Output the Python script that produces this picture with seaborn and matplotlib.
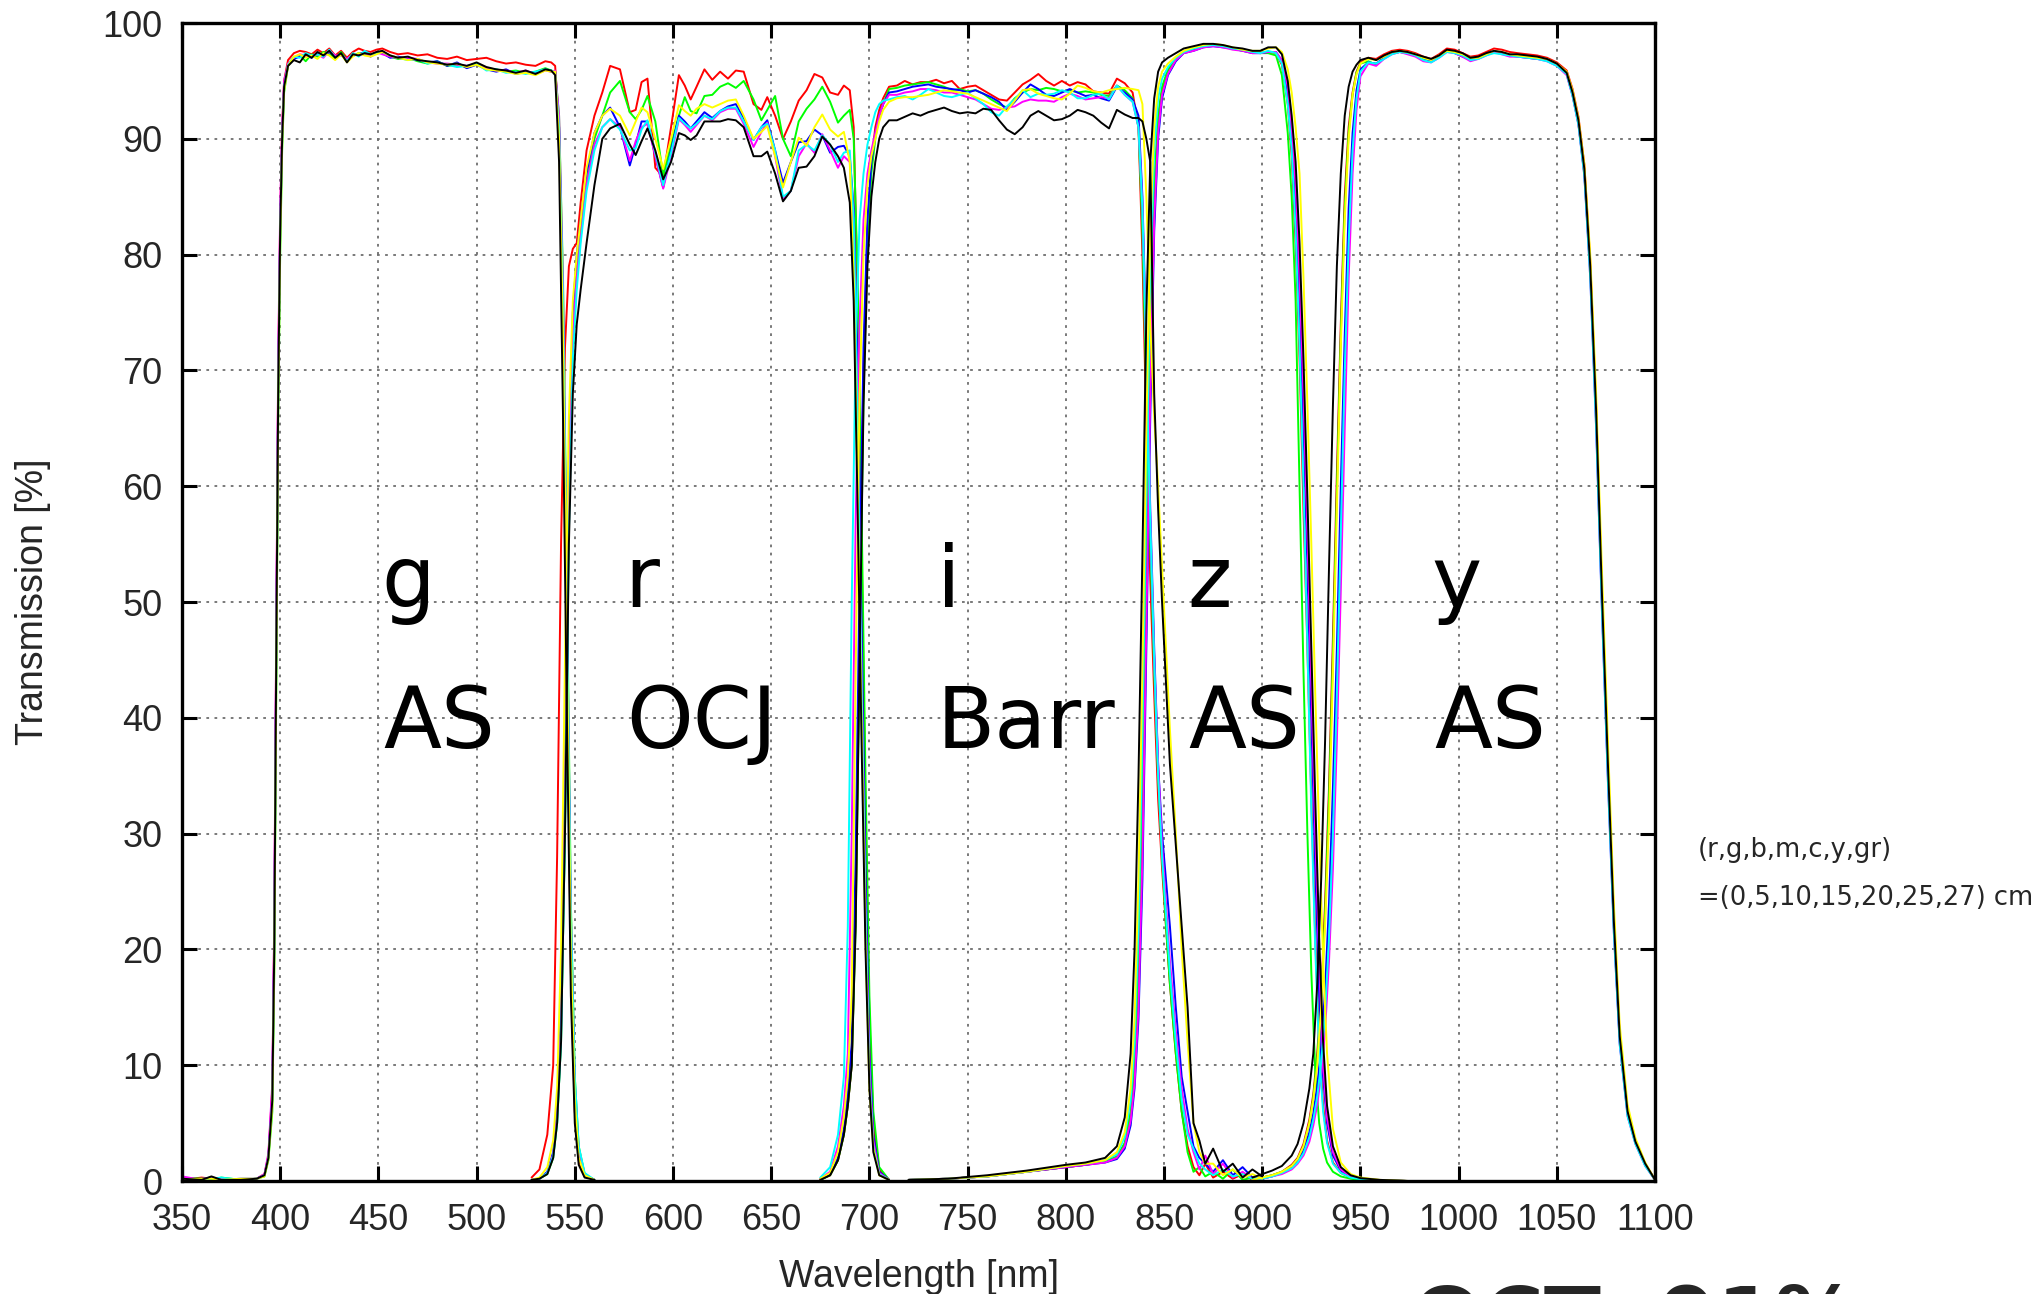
import matplotlib
matplotlib.use("Agg")
import matplotlib.pyplot as plt
import numpy as np
import pandas as pd
import seaborn as sns

# ---------------------------------------------------------------- data
POSITIONS = ["r", "g", "b", "m", "c", "y", "gr"]
LINE_COLORS = ["#ff0000", "#00ff00", "#0000ff", "#ff00ff", "#00ffff", "#ffff00", "#000000"]
BANDS = ["g", "r", "i", "z", "y"]
MAKERS = ["AS", "OCJ", "Barr", "AS", "AS"]
X_TICKS = list(range(350, 1101, 50))
Y_TICKS = list(range(0, 101, 10))

# g band (AS)
G_NM = [350, 360, 365, 370, 380, 388, 392, 394, 396, 397, 398, 399, 400, 401, 402, 404,
        407, 410, 413, 416, 419, 422, 425, 428, 431, 434, 437, 440, 443, 446, 449, 452,
        456, 460, 465, 470, 475, 480, 485, 490, 495, 500, 505, 510, 515, 520, 525, 530,
        535, 538, 540, 542, 544, 546, 548, 550, 552, 555, 560]
G_R = [0.1, 0.3, 0.2, 0.2, 0.1, 0.2, 0.6, 2.2, 8, 22, 47, 70, 83, 91, 95, 96.8,
       97.4, 97.6, 97.5, 97.3, 97.7, 97.4, 97.8, 97.2, 97.6, 97.0, 97.5, 97.8, 97.6, 97.5, 97.7, 97.8,
       97.5, 97.3, 97.4, 97.2, 97.3, 97.0, 96.9, 97.1, 96.8, 96.9, 97.0, 96.7, 96.5, 96.6, 96.4, 96.3,
       96.7, 96.6, 96.3, 91, 74, 45, 18, 6, 1.8, 0.4, 0.1]
G_G = [0.3, 0.2, 0.1, 0.3, 0.1, 0.2, 0.4, 1.8, 6, 18, 42, 66, 80, 89, 94, 96.3,
       97.0, 97.2, 96.7, 97.3, 97.1, 97.5, 97.3, 96.9, 97.5, 96.8, 97.2, 97.4, 97.3, 97.2, 97.4, 97.5,
       97.1, 96.9, 97.0, 96.7, 96.5, 96.7, 96.3, 96.4, 96.2, 96.5, 96.1, 96.0, 95.8, 95.9, 95.7, 95.8,
       96.1, 95.9, 95.8, 92, 78, 52, 24, 9, 3, 0.6, 0.1]
G_B = [0.1, 0.2, 0.3, 0.1, 0.2, 0.2, 0.5, 2.1, 7.5, 21, 46, 69, 82, 90, 94.5, 96.4,
       96.9, 97.1, 97.3, 97.0, 97.4, 97.2, 97.5, 97.1, 97.3, 96.8, 97.2, 97.3, 97.5, 97.1, 97.4, 97.4,
       97.0, 97.1, 96.9, 96.8, 96.6, 96.7, 96.3, 96.6, 96.1, 96.4, 96.0, 95.8, 96.0, 95.6, 95.8, 95.7,
       96.0, 95.8, 95.8, 91, 75, 48, 21, 8, 2.5, 0.5, 0.1]
G_M = [0.4, 0.1, 0.3, 0.2, 0.1, 0.2, 0.6, 2.4, 8.5, 23, 48, 71, 84, 91, 95, 96.5,
       97.0, 97.3, 97.2, 97.1, 97.3, 97.0, 97.6, 97.2, 97.2, 96.9, 97.3, 97.2, 97.4, 97.2, 97.5, 97.3,
       97.1, 97.0, 97.0, 96.9, 96.6, 96.5, 96.5, 96.4, 96.3, 96.5, 96.1, 95.9, 95.9, 95.7, 95.9, 95.6,
       95.9, 95.8, 95.9, 92, 77, 50, 23, 8.5, 2.8, 0.6, 0.1]
G_C = [0.2, 0.1, 0.2, 0.3, 0.1, 0.2, 0.5, 2.0, 7, 20, 44, 68, 82, 90, 94.5, 96.4,
       97.1, 97.0, 97.4, 97.2, 97.3, 97.1, 97.7, 97.0, 97.3, 96.7, 97.4, 97.1, 97.6, 97.3, 97.4, 97.5,
       97.2, 97.0, 96.8, 96.9, 96.5, 96.6, 96.4, 96.2, 96.3, 96.5, 95.9, 96.0, 95.7, 95.8, 95.6, 95.8,
       96.0, 95.9, 95.7, 91, 76, 50, 23, 9, 3, 0.7, 0.1]
G_Y = [0.1, 0.2, 0.2, 0.1, 0.2, 0.2, 0.4, 1.9, 6.5, 19, 43, 67, 81, 89.5, 94.2, 96.3,
       97.1, 97.3, 97.0, 97.2, 96.9, 97.4, 97.2, 96.8, 97.3, 96.6, 97.1, 97.4, 97.2, 97.1, 97.3, 97.5,
       97.2, 97.0, 96.8, 96.9, 96.6, 96.5, 96.4, 96.5, 96.2, 96.4, 96.0, 95.9, 95.8, 95.6, 95.7, 95.5,
       95.9, 95.8, 95.8, 90, 73, 46, 20, 7, 2, 0.5, 0.1]
G_K = [0.2, 0.1, 0.4, 0.1, 0.1, 0.2, 0.5, 2, 7, 20, 45, 68, 82, 90, 94.5, 96.3,
       96.8, 96.6, 97.3, 97.0, 97.5, 97.2, 97.6, 97.0, 97.4, 96.6, 97.3, 97.2, 97.4, 97.3, 97.5, 97.6,
       97.2, 97.0, 97.1, 96.8, 96.7, 96.6, 96.4, 96.5, 96.3, 96.6, 96.2, 96.0, 95.9, 95.7, 95.9, 95.6,
       96.0, 95.9, 95.5, 88, 66, 40, 16, 5, 1.4, 0.3, 0.1]

# r band (OCJ)
R_NM = [528, 532, 536, 539, 541, 543, 545, 547, 549, 551, 553, 556, 560, 564,
        568, 573, 578, 581, 584, 587, 591, 595, 599, 603, 606, 609, 612, 616, 620, 624,
        628, 632, 636, 641, 645, 648, 652, 656, 660, 664, 668, 672, 676, 680, 684, 687, 690,
        692, 694, 696, 698, 700, 702, 705, 710]
R_R = [0.3, 1, 4, 10, 28, 55, 72, 79, 80.5, 81, 84.5, 89, 92, 94,
       96.3, 96.0, 92.3, 92.5, 94.9, 95.2, 87.5, 86.7, 91.0, 95.5, 94.6, 93.4, 94.5, 96.0, 95.1, 95.8,
       95.2, 95.9, 95.8, 93.0, 92.5, 93.6, 92.0, 90.0, 91.5, 93.3, 94.2, 95.6, 95.3, 94.0, 93.8, 94.6, 94.2,
       91, 76, 55, 32, 14, 5, 1, 0.1]
R_G = [0.1, 0.2, 0.6, 2, 5, 12, 30, 58, 72, 78, 82, 86, 90, 92,
       94.0, 95.0, 92.3, 91.7, 92.5, 93.7, 91.5, 86.8, 89.5, 92.0, 93.6, 92.4, 92.2, 93.7, 93.8, 94.5,
       94.8, 94.4, 95.0, 93.4, 91.6, 92.5, 93.7, 90.0, 88.5, 91.5, 92.6, 93.4, 94.5, 93.2, 91.4, 92.0, 92.5,
       90, 78, 58, 35, 16, 6, 1.2, 0.1]
R_B = [0.1, 0.2, 0.8, 2.5, 6, 15, 36, 62, 75, 80, 83, 87, 90.5, 92,
       92.7, 91.0, 87.7, 89.5, 91.5, 91.5, 88.5, 85.8, 89.0, 92.0, 91.5, 90.9, 91.5, 92.3, 91.8, 92.4,
       92.8, 93.0, 91.8, 89.9, 91.0, 91.6, 89.0, 86.2, 88.0, 89.7, 89.8, 90.8, 90.3, 88.8, 89.3, 89.4, 88.5,
       84, 70, 48, 27, 11, 4, 0.8, 0.1]
R_M = [0.1, 0.2, 0.7, 2.3, 5.5, 13, 33, 60, 73, 78, 81.5, 86, 89.5, 91,
       91.7, 91.0, 88.1, 89.8, 91.0, 91.3, 88.5, 85.7, 88.5, 91.7, 91.2, 90.6, 91.2, 92.0, 91.6, 92.3,
       92.6, 92.6, 91.3, 89.3, 90.6, 91.4, 88.5, 84.8, 85.5, 88.5, 89.6, 88.8, 90.4, 89.0, 87.5, 88.5, 88.0,
       82, 66, 44, 24, 10, 3.5, 0.7, 0.1]
R_C = [0.1, 0.2, 0.7, 2.2, 5, 12, 30, 56, 71, 77, 81, 85.5, 89, 91,
       91.7, 90.8, 89.0, 89.2, 90.8, 91.6, 88.8, 86.0, 88.8, 91.8, 91.3, 90.9, 91.3, 92.0, 91.7, 92.4,
       92.7, 92.7, 91.5, 89.9, 91.0, 91.3, 89.0, 85.0, 85.5, 89.0, 89.5, 89.0, 90.3, 89.5, 88.0, 88.8, 89.0,
       83, 66, 43, 23, 9, 3, 0.6, 0.1]
R_Y = [0.1, 0.3, 1.2, 3.5, 8, 20, 45, 66, 76, 80, 83, 87.5, 90.5, 92,
       92.6, 92.0, 90.3, 91.5, 92.7, 92.3, 90.0, 87.4, 90.0, 92.9, 92.4, 92.0, 92.6, 93.0, 92.7, 93.0,
       93.3, 93.4, 92.0, 90.0, 90.6, 91.1, 88.5, 85.8, 88.0, 90.1, 89.4, 91.0, 92.1, 90.8, 90.2, 90.6, 88.0,
       78, 60, 40, 21, 8, 2.8, 0.5, 0.1]
R_K = [0.1, 0.2, 0.6, 2, 5, 12, 30, 55, 68, 74, 77, 81, 86, 90,
       90.9, 91.3, 89.5, 88.6, 89.8, 90.9, 89.0, 86.5, 88.0, 90.5, 90.3, 89.9, 90.3, 91.5, 91.5, 91.5,
       91.7, 91.6, 91.0, 88.5, 88.5, 88.9, 87.0, 84.6, 85.5, 87.5, 87.6, 88.5, 90.2, 89.5, 88.5, 87.5, 84.5,
       76, 58, 38, 20, 8, 2.5, 0.5, 0.1]

# i band (Barr)
I_NM = [675, 680, 684, 687, 689, 691, 693, 695, 697, 699, 701, 703, 705, 707, 710,
        714, 718, 722, 726, 730, 734, 738, 742, 746, 750, 754, 758, 762, 766, 770, 774,
        778, 782, 786, 790, 794, 798, 802, 806, 810, 814, 818, 822, 826, 830, 834,
        837, 839, 841, 843, 845, 847, 849, 851, 853, 856, 859, 862, 865,
        868, 871, 875, 880, 885, 890, 895, 900]
I_R = [0.1, 0.5, 1.8, 4, 6.5, 10, 23, 47, 70, 82, 88, 91, 92.5, 93.5, 94.5,
       94.6, 95.0, 94.7, 94.9, 94.9, 95.1, 94.8, 95.0, 94.3, 94.5, 94.6, 94.2, 93.8, 93.4, 93.3, 94.0,
       94.7, 95.1, 95.6, 95.0, 94.6, 95.0, 94.6, 94.9, 94.7, 94.1, 94.0, 93.9, 95.2, 94.8, 94.0,
       91, 80, 65, 52, 42, 33, 27, 22, 17, 11, 6, 3, 1.2,
       0.5, 1.5, 0.3, 0.8, 0.2, 0.6, 0.1, 0.3]
I_G = [0.1, 0.5, 1.8, 4, 6.5, 10, 22, 45, 68, 81, 87, 90, 92, 93, 94.3,
       94.4, 94.6, 94.7, 94.8, 94.9, 94.7, 94.5, 94.2, 94.3, 94.1, 94.2, 93.9, 93.4, 93.0, 92.7, 93.5,
       94.0, 94.3, 94.2, 94.4, 94.3, 94.1, 94.2, 94.0, 94.1, 94.0, 93.8, 93.7, 94.6, 94.2, 93.5,
       91, 82, 68, 55, 44, 35, 28, 22, 17, 11, 6, 2.5, 0.8,
       1.2, 0.4, 0.8, 0.2, 1.0, 0.1, 0.3, 0.2]
I_B = [0.2, 0.6, 2, 4.5, 7.5, 12, 28, 52, 72, 83, 88, 90.5, 92, 93, 94,
       94.1, 94.3, 94.5, 94.6, 94.7, 94.5, 94.4, 94.3, 94.2, 94.0, 94.2, 93.9, 93.6, 93.2, 92.5, 93.2,
       94.0, 94.7, 94.3, 93.8, 93.7, 94.0, 94.3, 94.0, 93.7, 93.8, 93.5, 93.3, 94.5, 94.0, 93.4,
       92, 85, 72, 58, 46, 36, 30, 26, 22, 15, 9, 6, 3,
       2, 1.5, 0.8, 1.8, 0.5, 1.2, 0.3, 0.4]
I_M = [0.2, 0.8, 3, 6.5, 11, 30, 57, 74, 83, 87, 89, 90.5, 92, 93, 93.8,
       93.8, 94.0, 94.1, 94.3, 94.3, 94.2, 94.0, 94.0, 93.8, 93.6, 93.4, 93.0, 92.6, 92.5, 92.7, 92.8,
       93.2, 93.4, 93.3, 93.3, 93.2, 93.6, 93.9, 93.7, 93.4, 93.5, 93.6, 93.5, 94.6, 93.8, 93.2,
       91, 84, 71, 57, 45, 36, 29, 24, 19, 13, 8, 4.5, 2.5,
       1.0, 2.2, 0.6, 1.5, 0.3, 0.8, 0.2, 0.3]
I_C = [0.3, 1.2, 4, 9, 22, 50, 72, 83, 87, 89.5, 91, 92.3, 93, 93.3, 93.4,
       93.6, 93.7, 93.4, 93.8, 94.3, 94.0, 93.7, 93.6, 93.8, 94.0, 93.5, 93.0, 92.3, 92.0, 92.8, 93.4,
       94.2, 93.6, 93.9, 93.8, 93.9, 94.2, 94.0, 93.5, 93.5, 93.8, 93.9, 93.4, 94.6, 93.8, 93.2,
       91, 84, 71, 57, 45, 35, 28, 23, 18, 12, 7, 4, 2.8,
       1.5, 1.0, 0.5, 1.0, 0.4, 0.6, 0.2, 0.3]
I_Y = [0.2, 0.7, 2.5, 5.5, 9, 16, 44, 68, 80, 86, 88.5, 90, 91.5, 92.5, 93.2,
       93.5, 93.6, 93.6, 93.7, 93.8, 94.0, 94.2, 94.1, 94.0, 93.9, 93.6, 93.3, 93.0, 92.7, 92.4, 93.3,
       94.2, 94.3, 93.9, 93.7, 93.5, 93.4, 93.9, 94.6, 94.4, 94.1, 94.0, 94.2, 94.3, 94.4, 94.3,
       94.2, 93, 85, 74, 66, 60, 53, 46, 39, 30, 20, 12, 5,
       2.5, 1.5, 1.5, 0.5, 1.0, 0.3, 0.6, 0.2]
I_K = [0.1, 0.5, 1.8, 4, 6.5, 10, 22, 45, 67, 79, 85, 88, 90, 91, 91.6,
       91.6, 91.9, 92.2, 92.0, 92.3, 92.5, 92.7, 92.4, 92.2, 92.3, 92.2, 92.6, 92.5, 91.6, 90.8, 90.4,
       91.0, 92.0, 92.4, 92.0, 91.6, 91.7, 92.0, 92.5, 92.3, 92.0, 91.4, 90.9, 92.5, 92.1, 91.8,
       91.8, 91.5, 90, 88, 68, 58, 50, 43, 36, 29, 22, 15, 5,
       3.5, 1.5, 2.8, 0.8, 1.5, 0.3, 1.0, 0.4]

# z band (AS)
Z_NM = [720, 740, 760, 780, 800, 810, 820, 826, 830, 833, 835, 837, 839, 841, 843, 845,
        847, 849, 852, 856, 860,
        865, 870, 875, 880, 885, 890, 895, 899, 903,
        907, 910, 913, 915, 917, 919, 921, 923, 925, 927, 929, 931, 933, 936, 940, 945,
        950, 960, 975, 990]
Z_R = [0.1, 0.2, 0.4, 0.8, 1.2, 1.4, 1.7, 2.1, 3.2, 5.8, 9.5, 17, 32, 53, 72, 85,
       91.5, 94.2, 95.9, 96.9, 97.5,
       97.7, 98.0, 98.1, 98.0, 97.8, 97.7, 97.5, 97.4, 97.5,
       97.4, 96.4, 93, 88.5, 81, 71, 58, 46, 33, 21, 12, 6.5, 3.5, 1.6, 0.7, 0.3,
       0.15, 0.05, 0, 0]
Z_G = [0.1, 0.2, 0.4, 0.8, 1.2, 1.4, 1.7, 2.1, 3.3, 6, 10, 18, 33, 54, 73, 86,
       92, 94.5, 96.0, 96.9, 97.5,
       97.7, 98.0, 98.1, 98.0, 97.8, 97.6, 97.5, 97.4, 97.4,
       97.2, 95.5, 90.5, 85, 76, 60, 44, 30, 18, 9.5, 5, 2.8, 1.6, 0.8, 0.4, 0.2,
       0.1, 0.05, 0, 0]
Z_B = [0.1, 0.2, 0.4, 0.8, 1.2, 1.4, 1.6, 1.9, 2.8, 4.8, 8, 14, 26, 46, 66, 82,
       90, 93.5, 95.5, 96.7, 97.4,
       97.6, 97.9, 98.0, 97.9, 97.8, 97.6, 97.4, 97.4, 97.5,
       97.5, 96.7, 94, 90, 84, 76, 65, 53, 40, 27, 16, 9, 5, 2.2, 0.9, 0.4,
       0.2, 0.05, 0, 0]
Z_M = [0.1, 0.2, 0.4, 0.8, 1.2, 1.4, 1.6, 2.0, 3.0, 5.2, 8.5, 15, 28, 48, 68, 83,
       90.5, 93.8, 95.6, 96.8, 97.4,
       97.6, 97.9, 98.0, 97.9, 97.7, 97.6, 97.4, 97.4, 97.5,
       97.5, 96.8, 94.5, 91, 86, 78, 68, 56, 43, 30, 19, 10, 5.5, 2.5, 1.0, 0.4,
       0.2, 0.05, 0, 0]
Z_C = [0.1, 0.2, 0.4, 0.8, 1.3, 1.5, 1.8, 2.3, 3.8, 7, 12, 22, 39, 60, 78, 89,
       93.5, 95.2, 96.2, 97.0, 97.5,
       97.8, 98.0, 98.1, 98.0, 97.8, 97.7, 97.5, 97.4, 97.6,
       97.4, 96.5, 93, 89, 82, 72, 60, 46, 32, 20, 11, 6, 3.3, 1.5, 0.7, 0.3,
       0.15, 0.05, 0, 0]
Z_Y = [0.1, 0.2, 0.4, 0.8, 1.3, 1.5, 1.8, 2.5, 4.2, 8, 14, 26, 44, 65, 82, 91,
       94.5, 95.8, 96.5, 97.1, 97.6,
       97.9, 98.1, 98.2, 98.1, 97.9, 97.7, 97.6, 97.6, 97.8,
       97.9, 97.5, 96, 94, 91, 87, 78, 67, 55, 42, 30, 19, 11, 4.5, 1.6, 0.6,
       0.3, 0.1, 0, 0]
Z_K = [0.1, 0.2, 0.5, 0.9, 1.4, 1.6, 2.0, 3.0, 5.5, 11, 20, 35, 54, 75, 88, 93.5,
       95.8, 96.6, 97.0, 97.4, 97.8,
       98.0, 98.2, 98.2, 98.1, 97.9, 97.8, 97.6, 97.6, 97.9,
       97.9, 97.3, 95, 92, 88, 81, 71, 59, 46, 33, 21, 12, 6.5, 3, 1.2, 0.5,
       0.25, 0.1, 0, 0]

# y band (AS)
Y_NM = [895, 900, 905, 910, 915, 918, 921, 924, 926, 928, 930, 932, 934, 936, 938, 940,
        942, 944, 946, 948, 950,
        954, 958, 962, 966, 970, 974, 978, 982, 986, 990, 994, 998, 1002, 1006, 1010,
        1014, 1018, 1022, 1026, 1030, 1035, 1040, 1045, 1050, 1055,
        1058, 1061, 1064, 1067, 1070, 1073, 1076, 1079, 1082, 1086, 1090, 1095, 1100]
Y_R = [0.1, 0.3, 0.5, 0.8, 1.4, 2, 3.2, 5.3, 7.5, 11, 16, 24, 34, 47, 61, 74,
       85, 91, 94, 95.8, 96.6,
       97.0, 96.9, 97.3, 97.6, 97.7, 97.6, 97.4, 97.1, 96.9, 97.3, 97.8, 97.7, 97.4, 97.1, 97.2,
       97.5, 97.8, 97.7, 97.5, 97.4, 97.3, 97.2, 97.0, 96.6, 95.9,
       94.3, 91.9, 87.8, 79.5, 67, 51, 36.5, 23, 12.8, 6.2, 3.5, 1.5, 0.1]
Y_G = [0.1, 0.3, 0.5, 0.8, 1.3, 1.9, 3.0, 5.0, 7.2, 10.5, 15.5, 23, 33, 45.5, 59.5, 73,
       84, 90.5, 93.8, 95.7, 96.5,
       96.7, 96.4, 97.0, 97.4, 97.5, 97.4, 97.2, 96.9, 96.7, 97.1, 97.6, 97.5, 97.2, 96.9, 97.0,
       97.3, 97.5, 97.4, 97.2, 97.2, 97.1, 97.0, 96.8, 96.4, 95.7,
       93.8, 91.3, 87.0, 78.5, 66, 50, 35.5, 22, 12.2, 5.8, 3.3, 1.4, 0.1]
Y_B = [0.1, 0.2, 0.4, 0.7, 1.2, 1.7, 2.6, 4.2, 5.8, 8.2, 11.5, 16.5, 24, 34, 46, 60,
       73, 84, 90.5, 94.2, 96.0,
       96.6, 96.5, 97.0, 97.4, 97.5, 97.4, 97.2, 96.8, 96.7, 97.1, 97.6, 97.4, 97.1, 96.8, 97.0,
       97.3, 97.5, 97.4, 97.2, 97.1, 97.0, 96.9, 96.8, 96.4, 95.6,
       93.8, 91.3, 87.0, 78.5, 65.5, 49.5, 35, 22, 12, 5.8, 3.3, 1.4, 0.1]
Y_M = [0.1, 0.2, 0.4, 0.6, 1.0, 1.5, 2.2, 3.4, 4.8, 6.6, 9.2, 13, 19, 27, 38, 51,
       65, 78, 87, 92.5, 95.4,
       96.5, 96.3, 96.9, 97.3, 97.5, 97.3, 97.1, 96.7, 96.6, 97.0, 97.5, 97.4, 97.1, 96.7, 96.9,
       97.2, 97.5, 97.3, 97.1, 97.1, 97.0, 96.9, 96.7, 96.3, 95.5,
       93.7, 91.2, 86.8, 78, 65, 49, 34.5, 21.5, 11.8, 5.6, 3.2, 1.3, 0.1]
Y_C = [0.1, 0.2, 0.4, 0.7, 1.1, 1.6, 2.4, 3.8, 5.3, 7.3, 10.2, 14.5, 21, 30, 42, 56,
       70, 81, 89, 93.5, 95.8,
       96.6, 96.5, 96.9, 97.3, 97.5, 97.4, 97.2, 96.8, 96.6, 97.0, 97.5, 97.4, 97.2, 96.8, 96.9,
       97.2, 97.4, 97.3, 97.2, 97.1, 97.0, 96.9, 96.7, 96.3, 95.6,
       93.7, 91.2, 86.8, 78, 65, 49, 34.5, 21.5, 11.8, 5.6, 3.2, 1.3, 0.1]
Y_Y = [0.1, 0.3, 0.5, 0.8, 1.3, 1.9, 3.0, 5.0, 7.0, 10, 15, 22, 31, 44, 58, 72,
       83, 90, 93.8, 95.6, 96.5,
       96.9, 96.8, 97.1, 97.5, 97.6, 97.5, 97.3, 97.0, 96.8, 97.2, 97.6, 97.5, 97.3, 97.0, 97.0,
       97.3, 97.6, 97.5, 97.3, 97.2, 97.1, 97.0, 96.9, 96.5, 95.8,
       94.2, 91.8, 87.8, 80, 68, 52.5, 38, 24, 13.5, 6.6, 3.7, 1.6, 0.1]
Y_K = [0.3, 0.6, 0.9, 1.3, 2.2, 3.2, 5, 8, 11, 17, 26, 38, 53, 67, 79, 87,
       92, 94.5, 95.8, 96.4, 96.8,
       97.0, 96.8, 97.2, 97.5, 97.6, 97.5, 97.3, 97.1, 96.9, 97.2, 97.7, 97.6, 97.4, 97.0, 97.1,
       97.4, 97.6, 97.5, 97.3, 97.3, 97.2, 97.1, 96.9, 96.5, 95.7,
       94.0, 91.6, 87.4, 79, 66.5, 50.5, 36, 22.5, 12.5, 6, 3.4, 1.5, 0.1]

# ---------------------------------------------------------------- long table
band_tables = [
    ("g", G_NM, [G_R, G_G, G_B, G_M, G_C, G_Y, G_K]),
    ("r", R_NM, [R_R, R_G, R_B, R_M, R_C, R_Y, R_K]),
    ("i", I_NM, [I_R, I_G, I_B, I_M, I_C, I_Y, I_K]),
    ("z", Z_NM, [Z_R, Z_G, Z_B, Z_M, Z_C, Z_Y, Z_K]),
    ("y", Y_NM, [Y_R, Y_G, Y_B, Y_M, Y_C, Y_Y, Y_K]),
]
frames = []
for band, nm, curves in band_tables:
    for pos, trans in zip(POSITIONS, curves):
        frames.append(pd.DataFrame({"wavelength": nm, "transmission": trans,
                                    "band": band, "position": pos}))
df = pd.concat(frames, ignore_index=True)

# ---------------------------------------------------------------- style
sns.set_style("ticks")
plt.rcParams["font.family"] = ["Liberation Sans", "DejaVu Sans"]

fig = plt.figure(figsize=(20.4, 12.94), dpi=100)
ax = fig.add_axes([0.0892, 0.0873, 0.7221, 0.8949])

sns.lineplot(data=df, x="wavelength", y="transmission", hue="position",
             hue_order=POSITIONS, palette=dict(zip(POSITIONS, LINE_COLORS)),
             units="band", estimator=None, sort=False, legend=False,
             linewidth=1.4, ax=ax)

ax.set_xlim(350, 1100)
ax.set_ylim(0, 100)
ax.set_xticks(X_TICKS)
ax.set_yticks(Y_TICKS)
ax.grid(True, color="#6e6e6e", linestyle=(0, (1.5, 3)), linewidth=1.3)
ax.set_axisbelow(True)
for side in ["left", "right", "top", "bottom"]:
    ax.spines[side].set_visible(True)
    ax.spines[side].set_linewidth(2.4)
    ax.spines[side].set_color("black")
ax.tick_params(axis="both", which="major", direction="in", length=11, width=2.2,
               top=True, right=True, labelsize=26, color="black")
ax.tick_params(axis="y", pad=14)
ax.tick_params(axis="x", pad=16)
ax.set_xlabel("Wavelength [nm]", fontsize=27, labelpad=15)
ax.set_ylabel("Transmission [%]", fontsize=27, labelpad=37)

# band and vendor names inside the plot
band_x = [451.5, 575, 734.5, 862, 986]
maker_x = [452.5, 576, 734, 862.5, 987.5]
for bx, mx, band, maker in zip(band_x, maker_x, BANDS, MAKERS):
    ax.text(bx, 49.6, band, fontsize=61, family="DejaVu Sans",
            ha="left", va="baseline", color="black")
    ax.text(mx, 37.4, maker, fontsize=61, family="DejaVu Sans",
            ha="left", va="baseline", color="black")

# position key on the right
fig.text(0.8324, 1 - 850 / 1294, "(r,g,b,m,c,y,gr)", fontsize=18.5,
         family="DejaVu Sans", ha="left", va="center")
fig.text(0.8324, 1 - 898 / 1294, "=(0,5,10,15,20,25,27) cm", fontsize=18.5,
         family="DejaVu Sans", ha="left", va="center")

# large caption running off the bottom edge
fig.text(1412 / 2040, -0.041, "OCT  91%", fontsize=60, family="DejaVu Sans",
         fontweight="bold", ha="left", va="baseline")

fig.savefig("out.png", dpi=100)
